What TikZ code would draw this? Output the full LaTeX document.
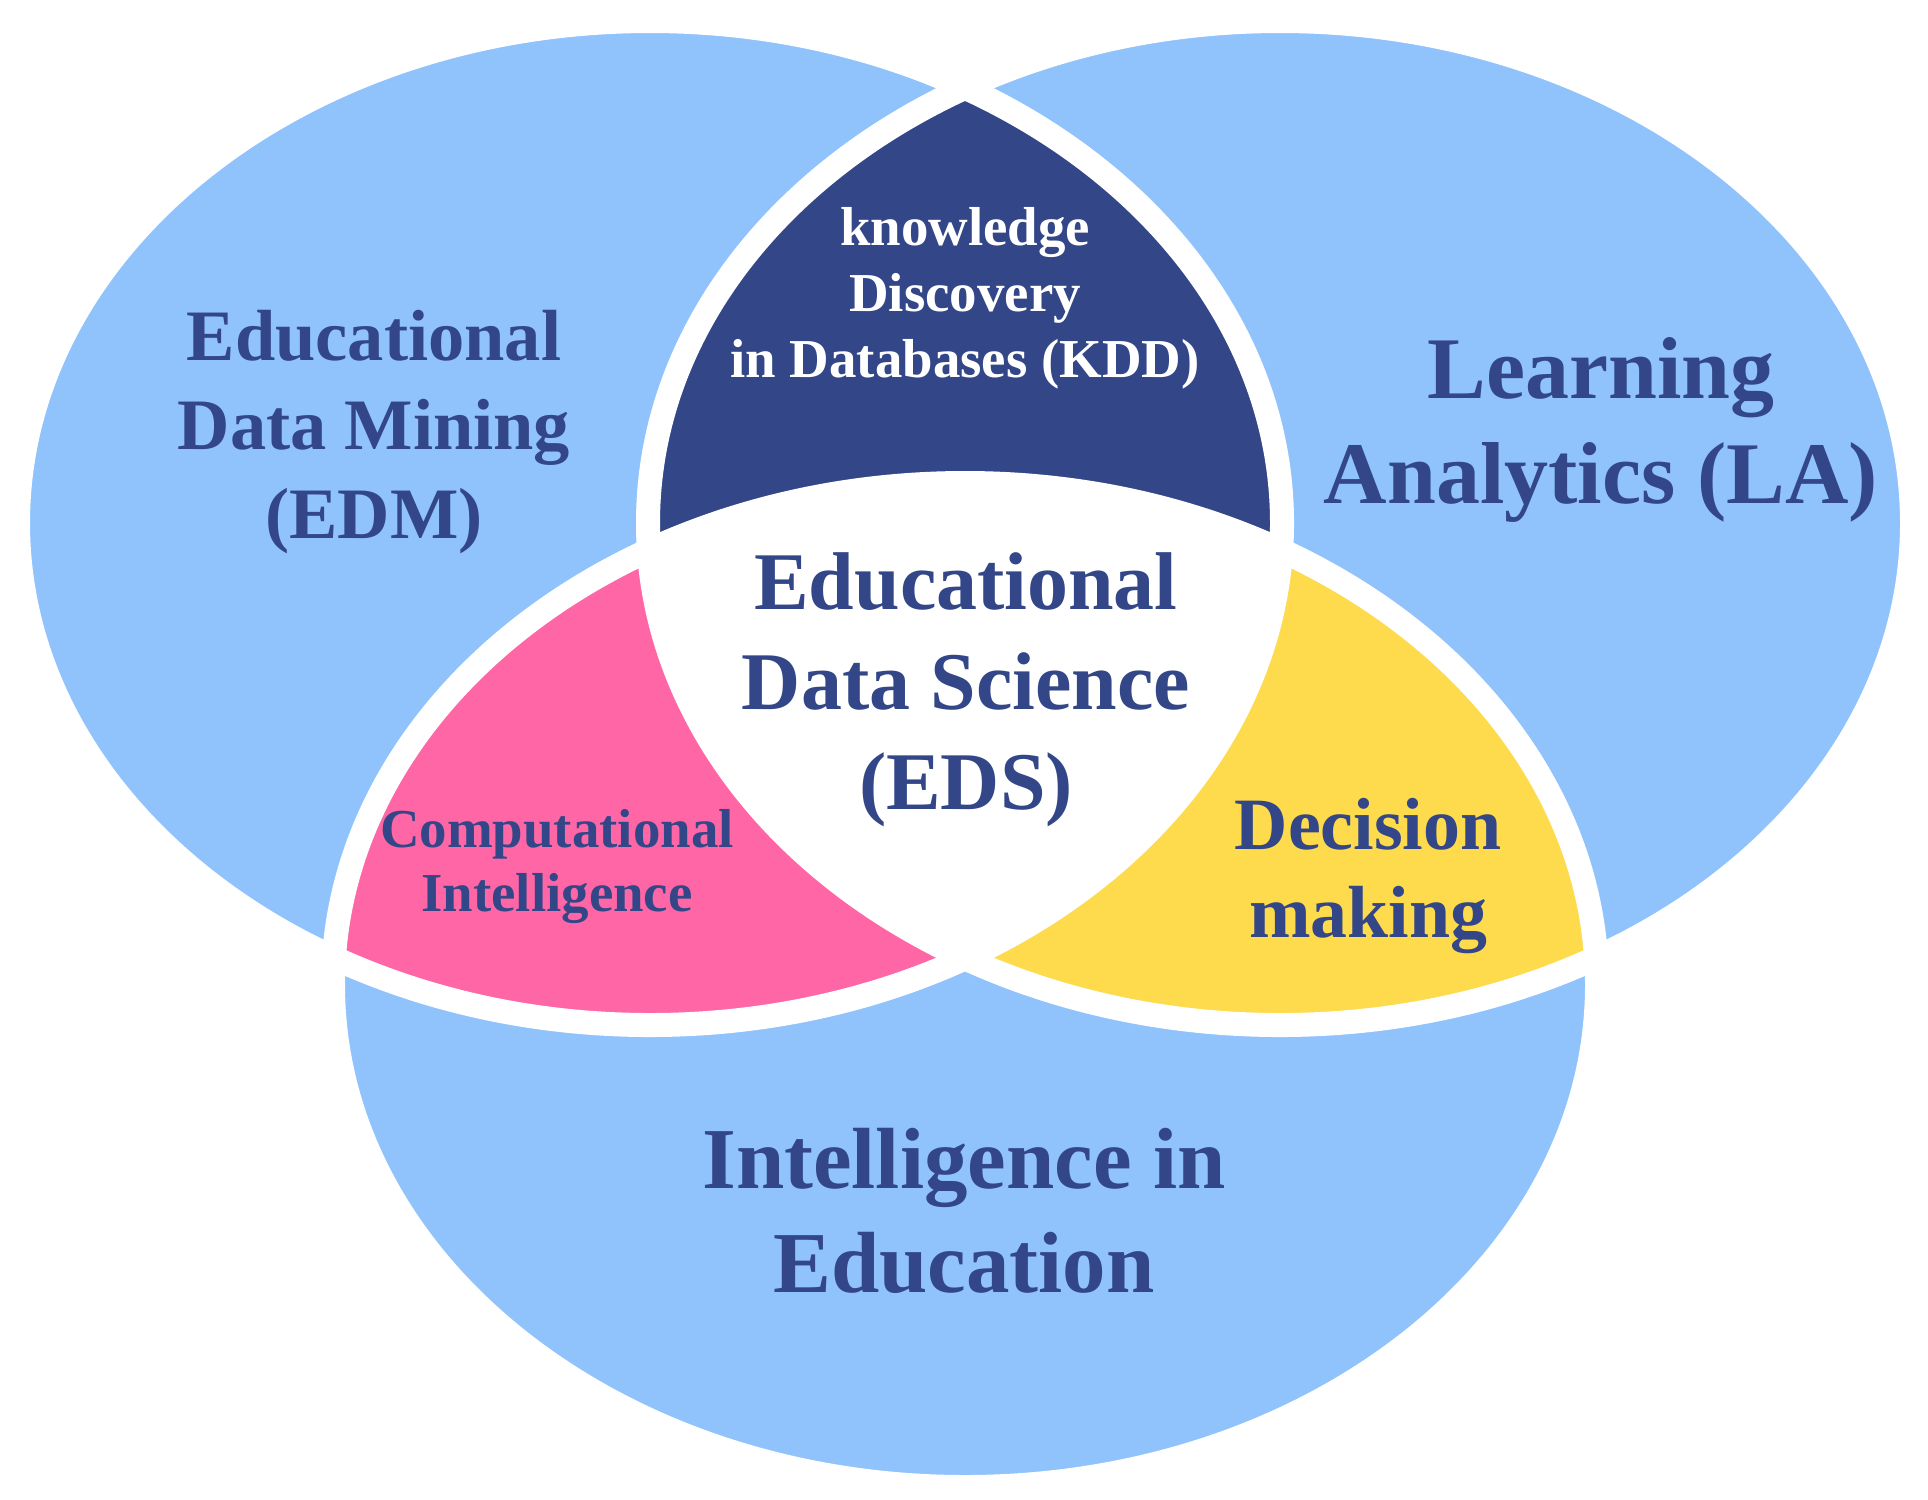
\documentclass[tikz,border=0pt]{standalone}
\usepackage{fontspec}
\setmainfont{Liberation Serif}
\definecolor{setblue}{HTML}{90C3FC}
\definecolor{kddblue}{HTML}{334788}
\definecolor{cipink}{HTML}{FF66A6}
\definecolor{dmyellow}{HTML}{FEDB4C}
\begin{document}
\begin{tikzpicture}[x=0.01cm, y=-0.01cm,
	venn/.style={x radius=632, y radius=502},
	lbl/.style={align=center, text=kddblue, inner sep=0pt}]
	\useasboundingbox (0,0) rectangle (1928,1499);

	\coordinate (edm) at (650,523);
	\coordinate (la) at (1280,523);
	\coordinate (ie) at (965,985);

	% the three sets
	\fill[setblue] (edm) ellipse [venn];
	\fill[setblue] (la) ellipse [venn];
	\fill[setblue] (ie) ellipse [venn];

	% pairwise overlaps
	\begin{scope}
		\clip (edm) ellipse [venn];
		\fill[kddblue] (la) ellipse [venn];
		\fill[cipink] (ie) ellipse [venn];
	\end{scope}
	\begin{scope}
		\clip (la) ellipse [venn];
		\fill[dmyellow] (ie) ellipse [venn];
	\end{scope}
	% all three
	\begin{scope}
		\clip (edm) ellipse [venn];
		\clip (la) ellipse [venn];
		\fill[white] (ie) ellipse [venn];
	\end{scope}

	\foreach \c in {edm,la,ie}
		\draw[white, line width=0.24cm] (\c) ellipse [venn];

	\node[lbl, font=\fontsize{20.6}{25.2}\selectfont\bfseries](edmtext) at (374,432){Educational\\Data Mining\\(EDM)};
	\node[lbl, font=\fontsize{25}{29.6}\selectfont\bfseries](latext) at (1601,430){Learning\\Analytics (LA)};
	\node[lbl, font=\fontsize{15.6}{18.8}\selectfont\bfseries, text=white](kddtext) at (965,298){knowledge\\Discovery\\in Databases (KDD)};
	\node[lbl, font=\fontsize{23.3}{28.5}\selectfont\bfseries](edstext) at (966,690){Educational\\Data Science\\(EDS)};
	\node[lbl, font=\fontsize{15.6}{18.2}\selectfont\bfseries](citext) at (557,866){Computational\\Intelligence};
	\node[lbl, font=\fontsize{21}{25.3}\selectfont\bfseries](dmtext) at (1368,876){Decision\\making};
	\node[lbl, font=\fontsize{24.7}{29.6}\selectfont\bfseries](ietext) at (964,1211){Intelligence in\\Education};
\end{tikzpicture}
\end{document}
